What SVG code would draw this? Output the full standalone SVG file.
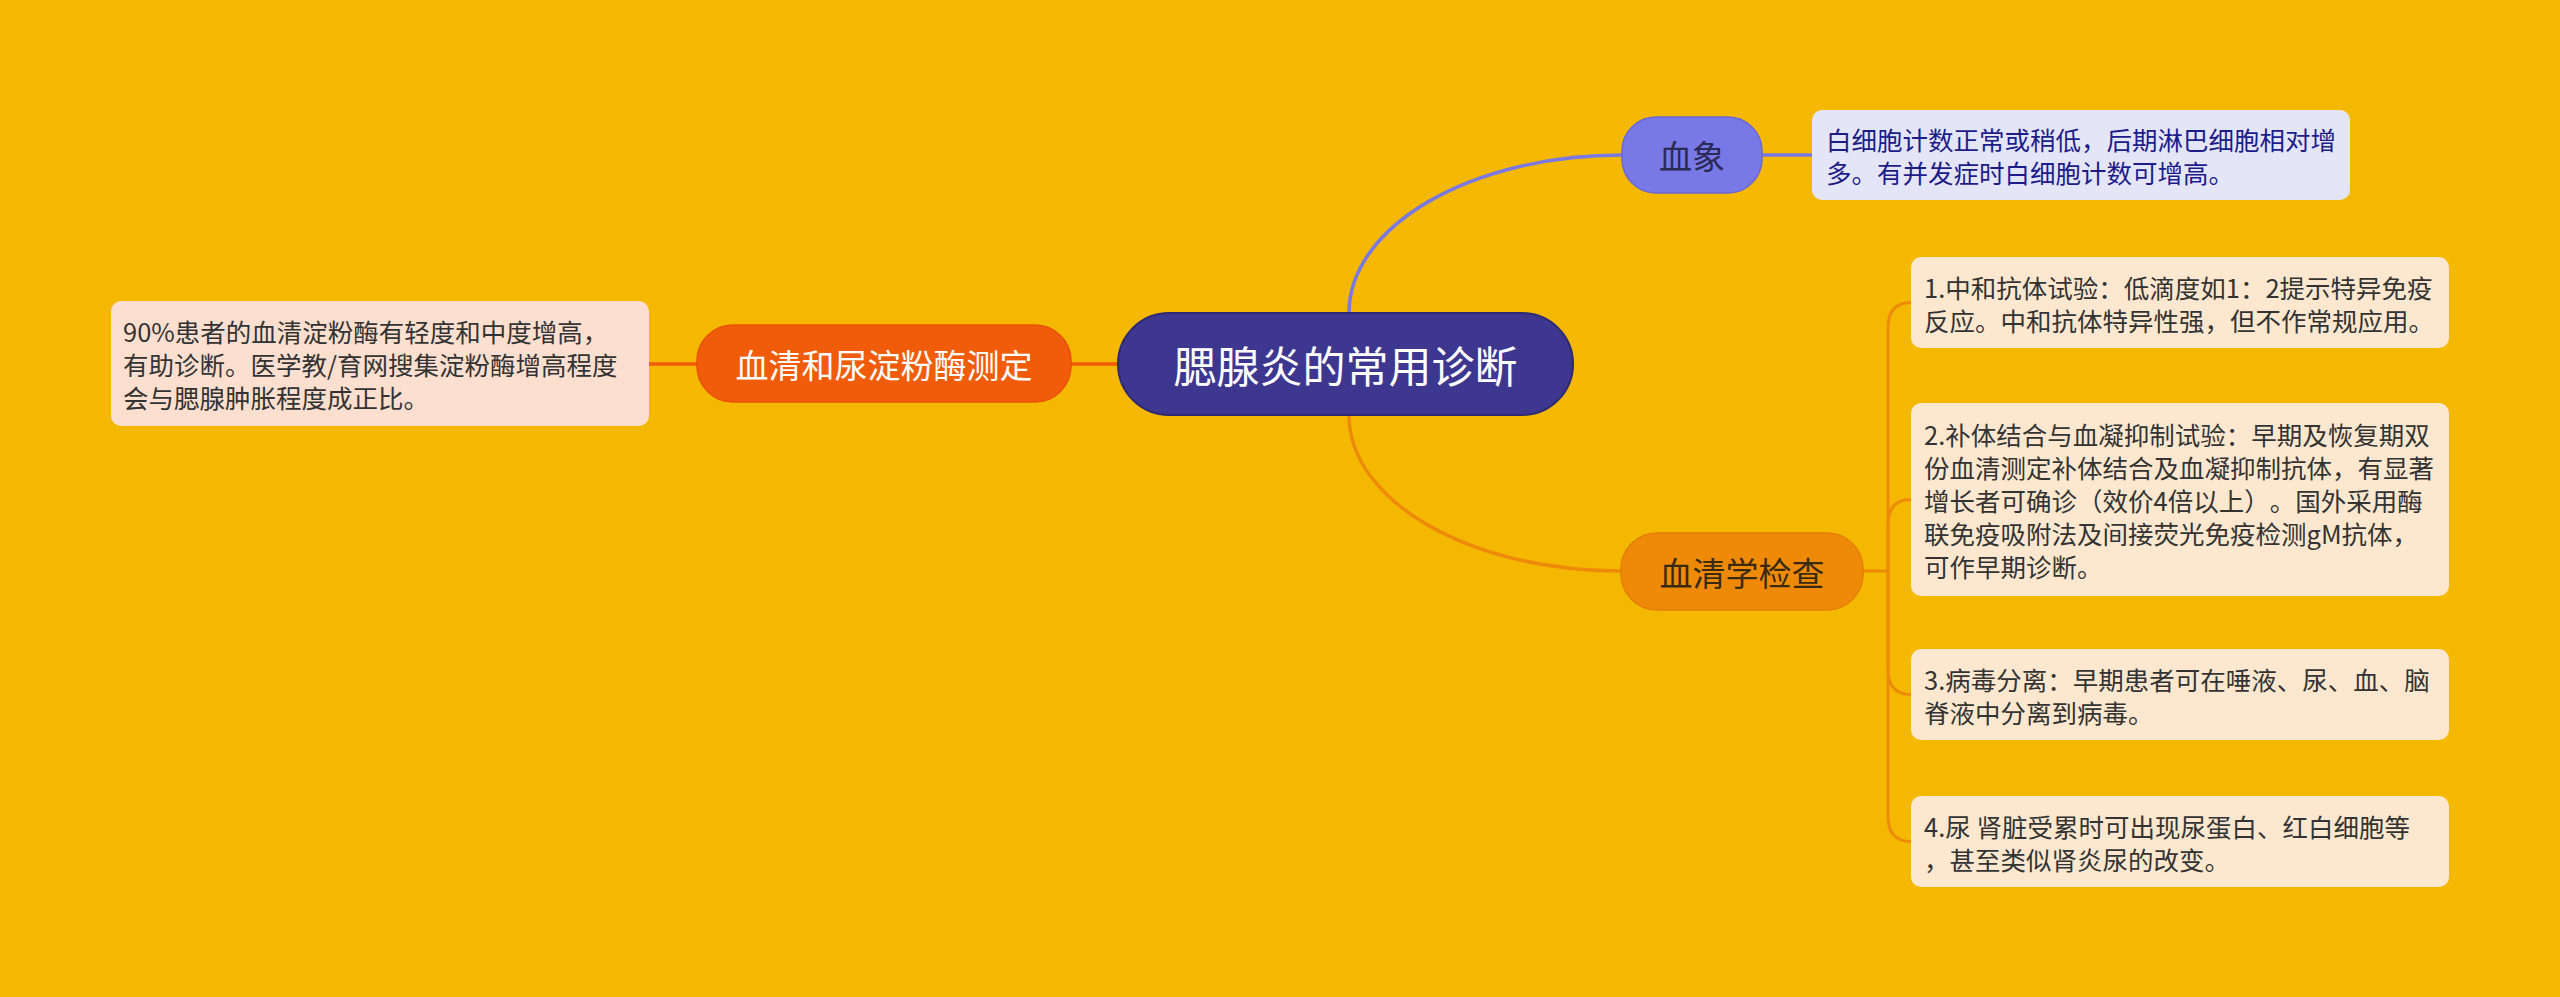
<svg xmlns="http://www.w3.org/2000/svg" width="2560" height="997" viewBox="0 0 2560 997">
<style>
text{font-family:"Noto Sans CJK SC","Noto Sans",sans-serif;dominant-baseline:central;text-spacing-trim:space-all}
.leaf{font-size:25.5px;fill:#333333}
.sub{font-size:33px;text-anchor:middle}
.c-purple{fill:none;stroke:#7A78E2;stroke-width:3.5;stroke-linecap:round}
.c-orange{fill:none;stroke:#EE8A0A;stroke-width:3;stroke-linecap:round}
.c-red{fill:none;stroke:#F05C0A;stroke-width:3.5;stroke-linecap:round}
</style>
<rect x="0" y="0" width="2560" height="997" fill="#F5B800"/>
<g id="connectors">
<path class="c-purple" d="M1349,313 C1349,226 1471,155 1622,155"/>
<path class="c-purple" d="M1762,155 H1812"/>
<path class="c-orange" style="stroke-width:3.5" d="M1349,415 C1349,502 1471,571 1621,571"/>
<path class="c-orange" d="M1863,571 H1888"/>
<path class="c-orange" d="M1888,571 V328 Q1888,302.5 1911,302.5"/>
<path class="c-orange" d="M1888,571 V525 Q1888,499.5 1911,499.5"/>
<path class="c-orange" d="M1888,571 V669 Q1888,694.5 1911,694.5"/>
<path class="c-orange" d="M1888,571 V816 Q1888,841.5 1911,841.5"/>
<path class="c-red" d="M1071,364 H1118"/>
<path class="c-red" d="M649,364 H697"/>
</g>
<g id="center">
<rect x="1118" y="313" width="455" height="102" rx="51" fill="#3E3790" stroke="#2E2A72" stroke-width="2"/>
<text x="1345.5" y="364" font-size="43" fill="#FFFFFF" text-anchor="middle">腮腺炎的常用诊断</text>
</g>
<g id="xuexiang">
<rect x="1622" y="117" width="140" height="76" rx="34" fill="#7878E6" stroke="#6A68D8" stroke-width="1.5"/>
<text class="sub" x="1692" y="155" fill="#2A2A55">血象</text>
</g>
<g id="xuexiang-leaf">
<rect x="1812" y="110" width="538" height="90" rx="10" fill="#E5E5F8"/>
<text class="leaf" style="fill:#1C1C8A" x="1826" y="138.5">白细胞计数正常或稍低，后期淋巴细胞相对增</text>
<text class="leaf" style="fill:#1C1C8A" x="1826" y="171.5">多。有并发症时白细胞计数可增高。</text>
</g>
<g id="serology">
<rect x="1621" y="533" width="242" height="77" rx="36" fill="#EF8A08" stroke="#E47E00" stroke-width="1.5"/>
<text class="sub" x="1742" y="571.5" fill="#3A2A10">血清学检查</text>
</g>
<g id="leaf1">
<rect x="1911" y="257" width="538" height="91" rx="10" fill="#FDE8CF"/>
<text class="leaf" x="1924" y="286">1.中和抗体试验：低滴度如1：2提示特异免疫</text>
<text class="leaf" x="1924" y="319">反应。中和抗体特异性强，但不作常规应用。</text>
</g>
<g id="leaf2">
<rect x="1911" y="403" width="538" height="193" rx="10" fill="#FDE8CF"/>
<text class="leaf" x="1924" y="433.5">2.补体结合与血凝抑制试验：早期及恢复期双</text>
<text class="leaf" x="1924" y="466.5">份血清测定补体结合及血凝抑制抗体，有显著</text>
<text class="leaf" x="1924" y="499.5">增长者可确诊（效价4倍以上）。国外采用酶</text>
<text class="leaf" x="1924" y="532.5">联免疫吸附法及间接荧光免疫检测gM抗体，</text>
<text class="leaf" x="1924" y="565.5">可作早期诊断。</text>
</g>
<g id="leaf3">
<rect x="1911" y="649" width="538" height="91" rx="10" fill="#FDE8CF"/>
<text class="leaf" x="1924" y="678">3.病毒分离：早期患者可在唾液、尿、血、脑</text>
<text class="leaf" x="1924" y="711">脊液中分离到病毒。</text>
</g>
<g id="leaf4">
<rect x="1911" y="796" width="538" height="91" rx="10" fill="#FDE8CF"/>
<text class="leaf" x="1924" y="825">4.尿 肾脏受累时可出现尿蛋白、红白细胞等</text>
<text class="leaf" x="1924" y="858">，甚至类似肾炎尿的改变。</text>
</g>
<g id="amylase">
<rect x="697" y="325" width="374" height="77" rx="36" fill="#F05C0A" stroke="#E65200" stroke-width="1.5"/>
<text class="sub" x="884" y="363.5" fill="#FFFFFF">血清和尿淀粉酶测定</text>
</g>
<g id="amylase-leaf">
<rect x="111" y="301" width="538" height="125" rx="10" fill="#FDDFCF"/>
<text class="leaf" x="123" y="330.5">90%患者的血清淀粉酶有轻度和中度增高，</text>
<text class="leaf" x="123" y="363.5">有助诊断。医学教/育网搜集淀粉酶增高程度</text>
<text class="leaf" x="123" y="396.5">会与腮腺肿胀程度成正比。</text>
</g>
</svg>
